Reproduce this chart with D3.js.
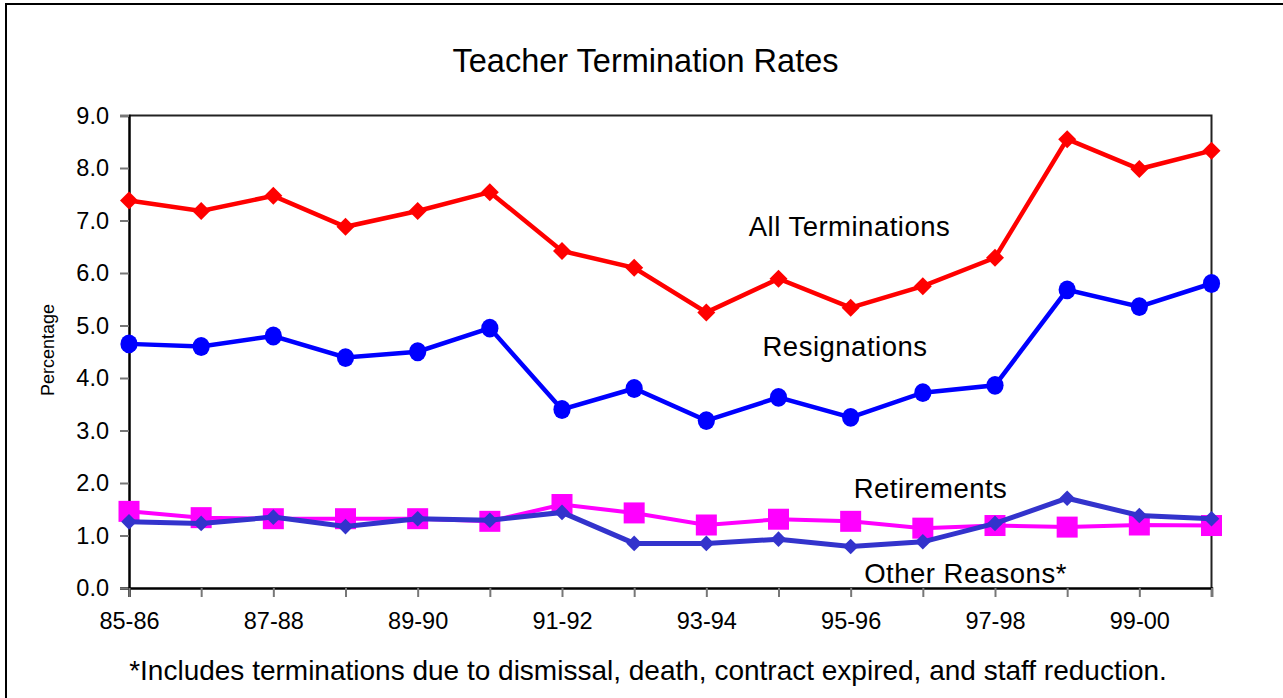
<!DOCTYPE html>
<html>
<head>
<meta charset="utf-8">
<script src="https://cdn.jsdelivr.net/npm/d3@7"></script>
<style>
  html, body { margin: 0; padding: 0; background: #fff; }
  svg { display: block; font-family: "Liberation Sans", Arial, sans-serif; }
</style>
</head>
<body>
<svg id="chart" width="1283" height="698"></svg>
<script>
// ---- data ----
const categories = ["85-86","86-87","87-88","88-89","89-90","90-91","91-92","92-93","93-94","94-95","95-96","96-97","97-98","98-99","99-00","00-01"];
const tickLabels = ["85-86","87-88","89-90","91-92","93-94","95-96","97-98","99-00"];
const allTerminations = [7.38, 7.18, 7.47, 6.88, 7.18, 7.54, 6.42, 6.10, 5.25, 5.89, 5.34, 5.75, 6.29, 8.55, 7.98, 8.33];
const resignations    = [4.65, 4.60, 4.80, 4.39, 4.50, 4.95, 3.40, 3.80, 3.19, 3.63, 3.25, 3.72, 3.86, 5.68, 5.36, 5.80];
const retirements     = [1.46, 1.34, 1.32, 1.32, 1.32, 1.27, 1.59, 1.43, 1.20, 1.31, 1.27, 1.14, 1.19, 1.16, 1.20, 1.19];
const otherReasons    = [1.26, 1.23, 1.35, 1.17, 1.32, 1.29, 1.44, 0.85, 0.85, 0.93, 0.79, 0.88, 1.23, 1.71, 1.38, 1.32];
const yTicks = [0,1,2,3,4,5,6,7,8,9];

(function () {
const svg = d3.select("#chart");
const pLeft = 129, pRight = 1211.5, pTop = 115.5, pBottom = 588;
const FONT = "Liberation Sans, Arial, sans-serif";

// outer frame
svg.append("rect").attr("x", 6).attr("y", 4).attr("width", 1300).attr("height", 720)
  .attr("fill", "#fff").attr("stroke", "#000").attr("stroke-width", 2);

const x = d3.scalePoint().domain(categories).range([pLeft, pRight]);
const y = d3.scaleLinear().domain([0, 9]).range([pBottom, pTop]);

// plot frame (top/right)
svg.append("path")
  .attr("d", `M${pLeft},${pTop}H${pRight}V${pBottom}`)
  .attr("fill", "none").attr("stroke", "#222").attr("stroke-width", 2);

// y axis
const yAxis = svg.append("g").attr("transform", `translate(${pLeft},0)`)
  .call(d3.axisLeft(y).tickValues(yTicks).tickFormat(d3.format(".1f")).tickSize(9).tickPadding(11));
yAxis.select(".domain").attr("stroke", "#000").attr("stroke-width", 2.5);
yAxis.selectAll(".tick line").attr("stroke", "#777").attr("stroke-width", 2);
yAxis.selectAll(".tick text").attr("font-size", 23.5).attr("fill", "#000").attr("font-family", FONT);

// x axis
const xAxis = svg.append("g").attr("transform", `translate(0,${pBottom})`)
  .call(d3.axisBottom(x).tickSize(9).tickPadding(15)
    .tickFormat(d => tickLabels.includes(d) ? d : ""));
xAxis.select(".domain").attr("stroke", "#000").attr("stroke-width", 2.5);
xAxis.selectAll(".tick line").attr("stroke", "#777").attr("stroke-width", 2);
xAxis.selectAll(".tick text").attr("font-size", 23.5).attr("fill", "#000").attr("font-family", FONT);

// series
const line = d3.line().x((d, i) => x(categories[i])).y(d => y(d));
function diamond(h) { return `M0,${-h}L${h},0L0,${h}L${-h},0Z`; }

function drawSeries(vals, color, width, marker) {
  const g = svg.append("g");
  g.append("path").datum(vals).attr("d", line).attr("fill", "none")
    .attr("stroke", color).attr("stroke-width", width).attr("stroke-linejoin", "miter");
  const pts = g.selectAll(".m").data(vals).enter();
  if (marker.type === "diamond") {
    pts.append("path").attr("d", diamond(marker.size))
      .attr("transform", (d, i) => `translate(${x(categories[i])},${y(d)})`)
      .attr("fill", color);
  } else if (marker.type === "circle") {
    pts.append("ellipse").attr("cx", (d, i) => x(categories[i])).attr("cy", d => y(d))
      .attr("rx", marker.size).attr("ry", marker.size + 0.8).attr("fill", color);
  } else if (marker.type === "square") {
    pts.append("rect").attr("x", (d, i) => x(categories[i]) - marker.size)
      .attr("y", d => y(d) - marker.size)
      .attr("width", marker.size * 2).attr("height", marker.size * 2).attr("fill", color);
  }
}
drawSeries(allTerminations, "#FF0000", 4.5, {type: "diamond", size: 9});
drawSeries(resignations, "#0000FF", 4.5, {type: "circle", size: 8.6});
drawSeries(retirements, "#FF00FF", 4, {type: "square", size: 10.5});
drawSeries(otherReasons, "#3333CC", 5, {type: "diamond", size: 7.8});

// texts
svg.append("text").attr("x", 645.5).attr("y", 72).attr("text-anchor", "middle")
  .attr("font-size", 32.5).text("Teacher Termination Rates");

svg.append("text").attr("transform", "translate(54,350) rotate(-90)")
  .attr("text-anchor", "middle").attr("font-size", 18).text("Percentage");

const annots = [
  {t: "All Terminations", cx: 849.5, by: 236},
  {t: "Resignations", cx: 845, by: 356},
  {t: "Retirements", cx: 930.5, by: 498},
  {t: "Other Reasons*", cx: 965.5, by: 583}
];
svg.selectAll(".annot").data(annots).enter().append("text")
  .attr("x", d => d.cx).attr("y", d => d.by).attr("text-anchor", "middle")
  .attr("font-size", 27.5).attr("letter-spacing", 0.5).text(d => d.t);

svg.append("text").attr("x", 648).attr("y", 680).attr("text-anchor", "middle")
  .attr("font-size", 28)
  .text("*Includes terminations due to dismissal, death, contract expired, and staff reduction.");
})();
</script>
</body>
</html>
